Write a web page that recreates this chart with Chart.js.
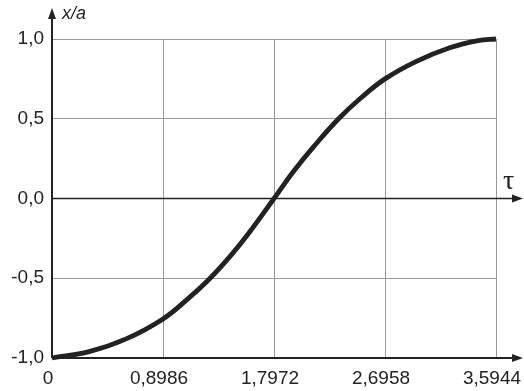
<!DOCTYPE html>
<html lang="en">
<head>
    <meta charset="UTF-8">
    <title>x/a vs tau</title>
    <script src="https://cdn.jsdelivr.net/npm/chart.js"></script>
    <style>
        html, body {
            margin: 0;
            padding: 0;
            background: #fff;
        }
        .chart-container {
            width: 524px;
            height: 391px;
        }
    </style>
</head>
<body>
    <div class="chart-container">
        <canvas id="curveChart"></canvas>
    </div>

    <script>
        // values
        const tau = [0, 0.3, 0.6, 0.8986, 1.12, 1.28, 1.45, 1.6, 1.7972,
                     1.95, 2.12, 2.32, 2.5, 2.6958, 2.95, 3.22, 3.45, 3.5944];
        const xa  = [-1.0, -0.96, -0.88, -0.755, -0.615, -0.5, -0.355, -0.21, 0,
                     0.165, 0.327, 0.5, 0.63, 0.75, 0.86, 0.945, 0.99, 1.0];
        const xTicks = [0, 0.8986, 1.7972, 2.6958, 3.5944];
        const xTickLabels = ['0', '0,8986', '1,7972', '2,6958', '3,5944'];
        const yTicks = [-1, -0.5, 0, 0.5, 1];
        const yTickLabels = ['-1,0', '-0,5', '0,0', '0,5', '1,0'];

        const ink = '#222';
        const gridGray = '#9a9a9a';

        // arrows, axis names
        const axisDecor = {
            id: 'axisDecor',
            afterDraw(chart) {
                const c = chart.ctx;
                const xs = chart.scales.x, ys = chart.scales.y;
                const x0 = xs.getPixelForValue(0);
                const yZero = ys.getPixelForValue(0);
                const yBot = ys.getPixelForValue(-1);
                const xEnd = chart.width - 1;

                c.save();
                c.strokeStyle = ink;
                c.fillStyle = ink;

                // vertical axis
                c.lineWidth = 2;
                c.beginPath();
                c.moveTo(x0, yBot);
                c.lineTo(x0, 16);
                c.stroke();
                c.beginPath();
                c.moveTo(x0, 8);
                c.lineTo(x0 - 4, 19);
                c.lineTo(x0 + 4, 19);
                c.closePath();
                c.fill();

                // horizontal lines with arrows
                [[yBot, 2], [yZero, 1.6]].forEach(([y, w]) => {
                    c.lineWidth = w;
                    c.beginPath();
                    c.moveTo(x0, y);
                    c.lineTo(xEnd - 6, y);
                    c.stroke();
                    c.beginPath();
                    c.moveTo(xEnd, y);
                    c.lineTo(xEnd - 11, y - 4);
                    c.lineTo(xEnd - 11, y + 4);
                    c.closePath();
                    c.fill();
                });

                c.textBaseline = 'alphabetic';
                c.textAlign = 'left';
                c.font = 'italic 18px "Liberation Sans", Arial, sans-serif';
                c.fillText('x/a', 62, 19);

                c.font = '28px "Liberation Serif", "DejaVu Serif", serif';
                c.fillText('\u03C4', 503, 189);
                c.restore();
            }
        };

        const ctx = document.getElementById('curveChart').getContext('2d');
        new Chart(ctx, {
            type: 'scatter',
            data: {
                datasets: [{
                    data: tau.map((t, i) => ({ x: t, y: xa[i] })),
                    showLine: true,
                    borderColor: ink,
                    borderWidth: 4.8,
                    pointRadius: 0,
                    tension: 0.4,
                    clip: false
                }]
            },
            options: {
                responsive: true,
                maintainAspectRatio: false,
                animation: false,
                layout: { padding: { top: 39, right: 0, left: 0, bottom: 0 } },
                plugins: {
                    legend: { display: false },
                    tooltip: { enabled: false }
                },
                scales: {
                    x: {
                        type: 'linear',
                        min: 0,
                        max: 3.5944,
                        afterBuildTicks: s => { s.ticks = xTicks.map(v => ({ value: v })); },
                        afterFit: s => {
                            s.height = 33;
                            s.paddingLeft = 0;
                            s.paddingRight = 28;
                        },
                        border: { display: false },
                        grid: {
                            drawTicks: false,
                            color: gridGray,
                            lineWidth: 1
                        },
                        ticks: {
                            padding: 9,
                            labelOffset: -4,
                            color: ink,
                            maxRotation: 0,
                            font: { family: '"Liberation Sans", Arial, sans-serif', size: 19 },
                            callback: (v, i) => xTickLabels[i]
                        }
                    },
                    y: {
                        min: -1,
                        max: 1,
                        afterBuildTicks: s => { s.ticks = yTicks.map(v => ({ value: v })); },
                        afterFit: s => { s.width = 52; },
                        border: { display: false },
                        grid: {
                            drawTicks: false,
                            color: gridGray,
                            lineWidth: 1
                        },
                        ticks: {
                            padding: 8,
                            color: ink,
                            font: { family: '"Liberation Sans", Arial, sans-serif', size: 19 },
                            callback: (v, i) => yTickLabels[i]
                        }
                    }
                }
            },
            plugins: [axisDecor]
        });
    </script>
</body>
</html>
